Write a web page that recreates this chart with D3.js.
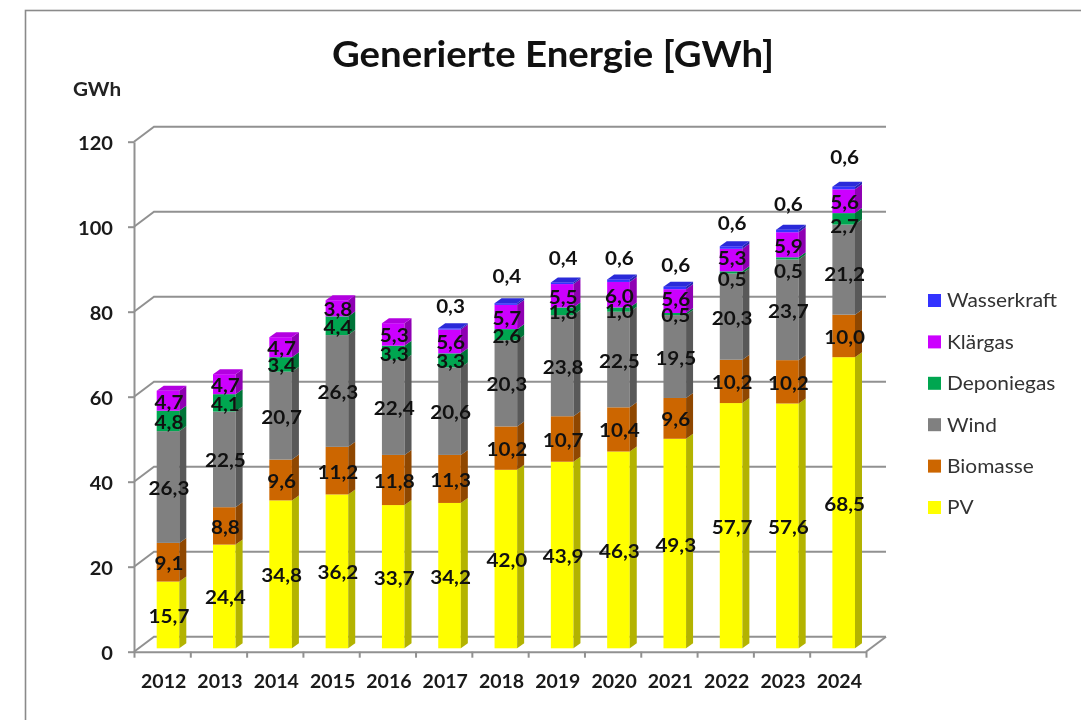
<!DOCTYPE html>
<html><head><meta charset="utf-8">
<script src="https://cdnjs.cloudflare.com/ajax/libs/d3/7.8.5/d3.min.js"></script>
<style>html,body{margin:0;padding:0;background:#fff}svg{display:block;filter:blur(0.4px)}text{font-family:Lato,sans-serif}</style>
</head><body><svg id="c" width="1081" height="720"></svg>
<script>
const years=[2012,2013,2014,2015,2016,2017,2018,2019,2020,2021,2022,2023,2024];
const seriesNames=["PV","Biomasse","Wind","Deponiegas","Klärgas","Wasserkraft"];
const pv=[15.7,24.4,34.8,36.2,33.7,34.2,42.0,43.9,46.3,49.3,57.7,57.6,68.5];
const biomasse=[9.1,8.8,9.6,11.2,11.8,11.3,10.2,10.7,10.4,9.6,10.2,10.2,10.0];
const wind=[26.3,22.5,20.7,26.3,22.4,20.6,20.3,23.8,22.5,19.5,20.3,23.7,21.2];
const deponiegas=[4.8,4.1,3.4,4.4,3.3,3.3,2.6,1.8,1.0,0.5,0.5,0.5,2.7];
const klaergas=[4.7,4.7,4.7,3.8,5.3,5.6,5.7,5.5,6.0,5.6,5.3,5.9,5.6];
const wasserkraft=[null,null,null,null,null,0.3,0.4,0.4,0.6,0.6,0.6,0.6,0.6];
const yTicks=[0,20,40,60,80,100,120];
const front=["#ffff00","#cc6600","#808080","#00a650","#cc00ff","#3333ff"];
const side=["#b3b300","#8f4700","#595959","#007438","#8f00b3","#2323b3"];
const top3d=["#ffff66","#e08f4d","#a6a6a6","#4dc185","#b300e0","#2a2ad9"];
const valueSets=[pv,biomasse,wind,deponiegas,klaergas,wasserkraft];

const svg=d3.select("#c");
const X0=134,X1=866,Y0=651.7,Y1=141.7,DX=20,DY=-15;
const x=d3.scaleBand().domain(years).range([X0,X1]);
const y=d3.scaleLinear().domain([0,120]).range([Y0,Y1]);
const gray="#919191";
const place=(px,py,sx)=>`translate(${px},${py}) scale(${sx},1)`;

svg.append("rect").attr("x",25.5).attr("y",10.5).attr("width",1100).attr("height",760)
  .attr("fill","#fff").attr("stroke","#8a8a8a").attr("stroke-width",1.6);

svg.append("text").attr("transform",place(553,66.5,1.037)).attr("text-anchor","middle")
  .attr("font-size",37).attr("font-weight",700).attr("fill","#111").text("Generierte Energie [GWh]");
svg.append("text").attr("transform",place(97,96,1.15)).attr("text-anchor","middle")
  .attr("font-size",18).attr("font-weight",700).attr("fill","#222").text("GWh");

// walls
const wall=svg.append("g").attr("fill","none").attr("stroke",gray).attr("stroke-width",2);
yTicks.forEach(t=>{
  wall.append("path").attr("d",d3.line()([[X0,y(t)],[X0+DX,y(t)+DY],[X1+DX,y(t)+DY]]));
});
wall.append("path").attr("d",d3.line()([[X1,Y0],[X1+DX,Y0+DY]]));

// axes
const yAxis=d3.axisLeft(y).tickValues(yTicks).tickSize(6).tickSizeOuter(0);
const gy=svg.append("g").attr("transform",`translate(${X0},0)`).call(yAxis);
const xEdge=d3.scaleLinear().domain([0,years.length]).range([X0,X1]);
const xAxis=d3.axisBottom(xEdge).tickValues(d3.range(0,years.length+1)).tickSize(6).tickSizeOuter(0).tickFormat("");
const gx=svg.append("g").attr("transform",`translate(0,${Y0})`).call(xAxis);
[gx,gy].forEach(g=>{g.selectAll("path,line").attr("stroke",gray).attr("stroke-width",2)});
gy.selectAll("text").attr("x",0).attr("font-size",19.5).attr("font-weight",700).attr("fill","#1a1a1a")
  .attr("transform",place(-21,1.5,1.03));
svg.append("g").selectAll("text").data(years).join("text")
  .attr("transform",d=>place(x(d)+x.bandwidth()/2+1.5,688,1)).attr("text-anchor","middle")
  .attr("font-size",19.5).attr("font-weight",700).attr("fill","#1a1a1a").text(d=>d);

// bars
const barW=22.6,bdx=7,bdy=-5,inset=22.7,baseShift=y(0)-648.3;
const fmt=v=>v.toFixed(1).replace(".",",");
const labelNudge={"3-10":6,"3-11":12,"3-12":6,"2-12":3,"4-9":-3,"4-10":-3,
  "5-5":3,"5-6":-2,"5-7":1,"5-8":4,"5-9":3,"5-10":2,"5-11":-1,"5-12":-5};
const bars=svg.append("g"), labels=svg.append("g");
years.forEach((yr,i)=>{
  let cum=0;
  const g=bars.append("g");
  const left=x(yr)+inset;
  const py=v=>y(v)-baseShift;
  const segs=[];
  valueSets.forEach((vals,s)=>{
    const v=vals[i]; if(v==null) return;
    segs.push({s,v,a:cum,b:cum+v}); cum+=v;
  });
  segs.forEach((d,k)=>{
    const ya=py(d.a),yb=py(d.b);
    g.append("rect").attr("x",left).attr("y",yb).attr("width",barW).attr("height",ya-yb).attr("fill",front[d.s]);
    g.append("path").attr("fill",side[d.s]).attr("d",d3.line()([[left+barW,ya],[left+barW+bdx,ya+bdy],[left+barW+bdx,yb+bdy],[left+barW,yb]])+"Z");
    if(k===segs.length-1) g.append("path").attr("fill",top3d[d.s]).attr("d",d3.line()([[left,yb],[left+bdx,yb+bdy],[left+barW+bdx,yb+bdy],[left+barW,yb]])+"Z");
    const isTop=d.s===5;
    const ly=(isTop?py(d.b)-25:py((d.a+d.b)/2)+1)+(labelNudge[d.s+"-"+i]||0);
    labels.append("text").attr("transform",place(left+barW/2+1,ly,1.06)).attr("dy","0.36em").attr("text-anchor","middle")
      .attr("font-size",19.5).attr("font-weight",700).attr("fill","#111").text(fmt(d.v));
  });
});

// legend
const legY=d3.scalePoint().domain(seriesNames.slice().reverse()).range([300.5,507.5]);
const leg=svg.append("g");
seriesNames.forEach((n,s)=>{
  leg.append("rect").attr("x",928).attr("y",legY(n)-6.5).attr("width",13).attr("height",13).attr("fill",front[s]);
  leg.append("text").attr("transform",place(947,legY(n),1.1)).attr("dy","0.36em").attr("font-size",19).attr("fill","#333").text(n);
});
</script></body></html>
